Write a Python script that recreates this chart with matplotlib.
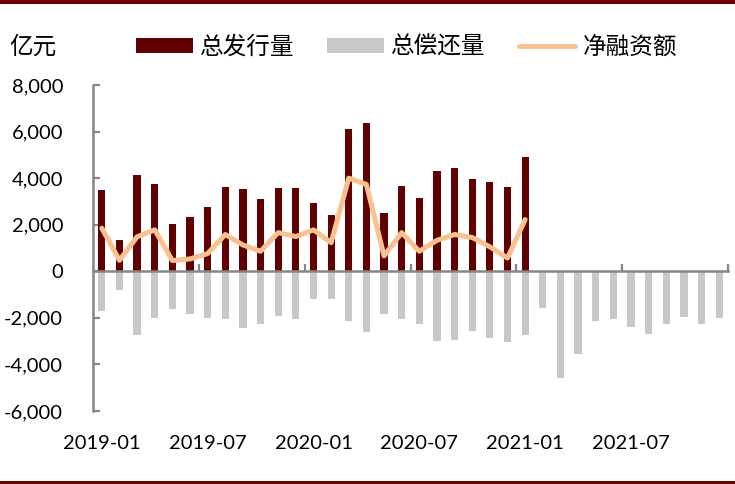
import matplotlib
matplotlib.use("Agg")
import matplotlib.pyplot as plt
from matplotlib.patches import Patch, Rectangle
from matplotlib.lines import Line2D
from matplotlib.ticker import FuncFormatter, MultipleLocator, FixedLocator

# ---- data (亿元) ----
months = [f"{y}-{m:02d}" for y in (2019, 2020, 2021) for m in range(1, 13)]
issuance = [3500, 1350, 4150, 3750, 2050, 2350, 2750, 3600, 3550, 3100, 3580, 3580,
            2950, 2400, 6100, 6350, 2500, 3650, 3150, 4300, 4450, 3950, 3850, 3600,
            4900]
repayment = [-1700, -800, -2750, -2000, -1600, -1850, -2000, -2050, -2450, -2250, -1920, -2060,
             -1200, -1180, -2150, -2620, -1850, -2030, -2250, -3000, -2940, -2560, -2870, -3030,
             -2750, -1560, -4590, -3550, -2140, -2060, -2390, -2710, -2280, -1960, -2250, -2000]
net_financing = [1850, 470, 1480, 1780, 460, 530, 760, 1580, 1130, 860, 1660, 1490,
                 1780, 1230, 4000, 3730, 660, 1660, 860, 1330, 1580, 1450, 1050, 570,
                 2220]
label_months = ["2019-01", "2019-07", "2020-01", "2020-07", "2021-01", "2021-07"]
legend_labels = ["总发行量", "总偿还量", "净融资额"]
unit_label = "亿元"

# ---- style ----
C_ISS = "#600000"
C_REP = "#C8C8C8"
C_NET = "#FAC090"
C_AX = "#868686"
C_FRAME = "#6B0000"
NUM_FONT = "Lato"
CJK = ["Noto Sans CJK SC", "DejaVu Sans"]

fig = plt.figure(figsize=(7.35, 4.84), dpi=100)
ax = fig.add_axes([93 / 735, 1 - 411 / 484, (728 - 93) / 735, (411 - 85) / 484])

x_all = list(range(len(months)))
bw = 0.41
ax.bar(x_all, repayment, width=bw, color=C_REP, zorder=2)
ax.bar(x_all[:len(issuance)], issuance, width=bw, color=C_ISS, zorder=3)
ax.plot(x_all[:len(net_financing)], net_financing, color=C_NET, lw=3.6,
        solid_joinstyle="round", solid_capstyle="round", zorder=4)

ax.set_xlim(-0.5, len(months) - 0.5)
ax.set_ylim(-6000, 8000)

# y axis
ax.yaxis.set_major_locator(MultipleLocator(2000))
ax.yaxis.set_major_formatter(FuncFormatter(lambda v, p: f"{int(v):,}"))
ax.tick_params(axis="y", direction="in", length=5, width=1.6, color=C_AX, pad=21.5,
               labelsize=14.5)
for lab in ax.get_yticklabels():
    lab.set_fontfamily(NUM_FONT)

for s in ("top", "right", "bottom"):
    ax.spines[s].set_visible(False)
ax.spines["left"].set_color(C_AX)
ax.spines["left"].set_linewidth(1.8)

# x labels at bottom, no tick marks
ax.xaxis.set_major_locator(FixedLocator([months.index(m) for m in label_months]))
ax.set_xticklabels(label_months)
ax.tick_params(axis="x", length=0, pad=17, labelsize=14.5)
for lab in ax.get_xticklabels():
    lab.set_fontfamily(NUM_FONT)

# zero axis line with boundary ticks every 6 months
sec = ax.secondary_xaxis(6000 / 14000)
sec.spines["bottom"].set_color(C_AX)
sec.spines["bottom"].set_linewidth(1.8)
sec.set_xticks([-0.5 + 6 * k for k in range(1, 7)])
sec.tick_params(axis="x", direction="in", length=5, width=1.6, color=C_AX, labelbottom=False)
sec.set_zorder(5)

# legend
handles = [Patch(facecolor=C_ISS, edgecolor="none"),
           Patch(facecolor=C_REP, edgecolor="none"),
           Line2D([], [], color=C_NET, lw=3.6, solid_capstyle="round")]
leg = fig.legend(handles, legend_labels, loc="center left",
                 bbox_to_anchor=(136 / 735, 1 - 47 / 484), ncol=3, frameon=False,
                 prop={"family": CJK, "size": 17}, handlelength=2.4, handleheight=0.6,
                 handletextpad=0.3, columnspacing=1.4, borderaxespad=0, borderpad=0)

fig.text(9 / 735, 1 - 47 / 484, unit_label, family=CJK, fontsize=17,
         ha="left", va="center")

# frame bars top and bottom
fig.add_artist(Rectangle((0, 1 - 4 / 484), 1, 4 / 484, transform=fig.transFigure,
                         color=C_FRAME, lw=0))
fig.add_artist(Rectangle((0, 0), 1, 3 / 484, transform=fig.transFigure,
                         color=C_FRAME, lw=0))

fig.savefig("out.png", dpi=100)
